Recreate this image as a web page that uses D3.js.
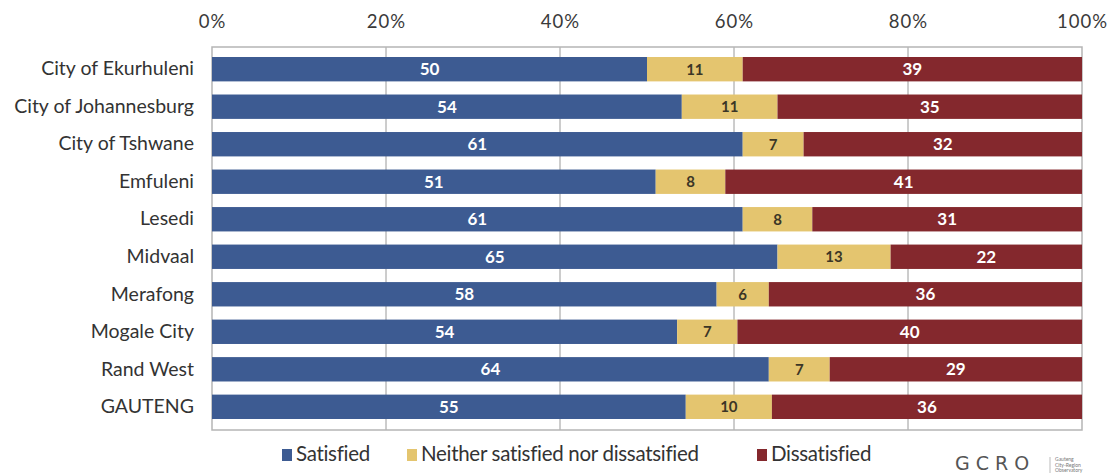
<!DOCTYPE html>
<html><head><meta charset="utf-8">
<script src="https://cdn.jsdelivr.net/npm/d3@7"></script>
<style>body{margin:0;background:#fff;} svg{display:block;}</style>
</head><body>
<svg id="chart" width="1110" height="476"></svg>
<script>
const categories = ["City of Ekurhuleni","City of Johannesburg","City of Tshwane","Emfuleni","Lesedi","Midvaal","Merafong","Mogale City","Rand West","GAUTENG"];
const satisfied = [50,54,61,51,61,65,58,54,64,55];
const neither = [11,11,7,8,8,13,6,7,7,10];
const dissatisfied = [39,35,32,41,31,22,36,40,29,36];
const seriesNames = ["Satisfied","Neither satisfied nor dissatsified","Dissatisfied"];
const seriesColors = ["#3D5B92","#E4C56F","#84282D"];
const labelColors = ["#ffffff","#3b3626","#ffffff"];
const tickValues = [0,20,40,60,80,100];

const svg = d3.select("#chart");
const margin = {left:212, right:28, top:47, bottom:46};
const W = 1110, H = 476;
const x = d3.scaleLinear().domain([0,100]).range([margin.left, W-margin.right]);
const y = d3.scaleBand().domain(categories).range([margin.top+1, H-margin.bottom-2]).paddingInner(0.35).paddingOuter(0.24);

const rows = categories.map((c,i)=>{
  const vals=[satisfied[i],neither[i],dissatisfied[i]];
  const tot=d3.sum(vals);
  let acc=0;
  return vals.map((v,k)=>{const s={cat:c,k,v,x0:acc/tot*100,x1:(acc+v)/tot*100};acc+=v;return s;});
});

// gridlines
svg.append("g").selectAll("line").data(tickValues.slice(1,-1)).join("line")
  .attr("x1",d=>x(d)).attr("x2",d=>x(d)).attr("y1",margin.top).attr("y2",H-margin.bottom)
  .attr("stroke","#9a9a9a").attr("stroke-width",1);
// frame
svg.append("rect").attr("x",x(0)).attr("y",margin.top).attr("width",x(100)-x(0)).attr("height",H-margin.bottom-margin.top)
  .attr("fill","none").attr("stroke","#b5b5b5").attr("stroke-width",1.5);

// top axis
const axis = svg.append("g").attr("transform",`translate(0,${margin.top})`)
  .call(d3.axisTop(x).tickValues(tickValues).tickFormat(d=>d+"%").tickSize(0).tickPadding(19));
axis.select(".domain").remove();
axis.selectAll("text").attr("font-family","Lato").attr("font-size",18.5).attr("letter-spacing",1).attr("fill","#3a3a3a");

// bars
const segs = rows.flat();
svg.append("g").selectAll("rect").data(segs).join("rect")
  .attr("x",d=>x(d.x0)).attr("width",d=>x(d.x1)-x(d.x0))
  .attr("y",d=>y(d.cat)).attr("height",y.bandwidth())
  .attr("fill",d=>seriesColors[d.k]);
svg.append("g").selectAll("text").data(segs).join("text")
  .attr("x",d=>(x(d.x0)+x(d.x1))/2).attr("y",d=>y(d.cat)+y.bandwidth()/2+1.5)
  .attr("text-anchor","middle").attr("dominant-baseline","middle")
  .attr("font-family","Lato").attr("font-weight",700).attr("font-size",d=>d.k===1?15:17)
  .attr("fill",d=>labelColors[d.k]).text(d=>d.v);

// category labels
const ya = svg.append("g").attr("transform",`translate(${margin.left},0)`)
  .call(d3.axisLeft(y).tickSize(0).tickPadding(18));
ya.select(".domain").remove();
ya.selectAll("text").attr("font-family","Lato").attr("font-size",19.5).attr("fill","#333");

// legend
const legX = [282,407,757];
const lg = svg.append("g").selectAll("g").data(seriesNames).join("g")
  .attr("transform",(d,i)=>`translate(${legX[i]},455)`);
lg.append("rect").attr("x",0).attr("y",-6).attr("width",10).attr("height",12).attr("fill",(d,i)=>seriesColors[i]);
lg.append("text").attr("x",14).attr("y",0.5).attr("dominant-baseline","middle")
  .attr("font-family","Lato").attr("font-size",20.5).attr("fill","#333").attr("letter-spacing",-0.3).text(d=>d);

// logo
const logo = svg.append("g");
logo.append("text").attr("x",955).attr("y",470).attr("font-family","DejaVu Sans").attr("font-size",19)
  .attr("letter-spacing",6).attr("fill","#555").text("GCRO");
logo.append("line").attr("x1",1050).attr("x2",1050).attr("y1",457).attr("y2",473).attr("stroke","#bbb");
["Gauteng","City-Region","Observatory"].forEach((t,i)=>{
  logo.append("text").attr("x",1055).attr("y",461+i*5.5).attr("font-family","Lato").attr("font-size",5).attr("fill","#777").text(t);
});
</script>
</body></html>
